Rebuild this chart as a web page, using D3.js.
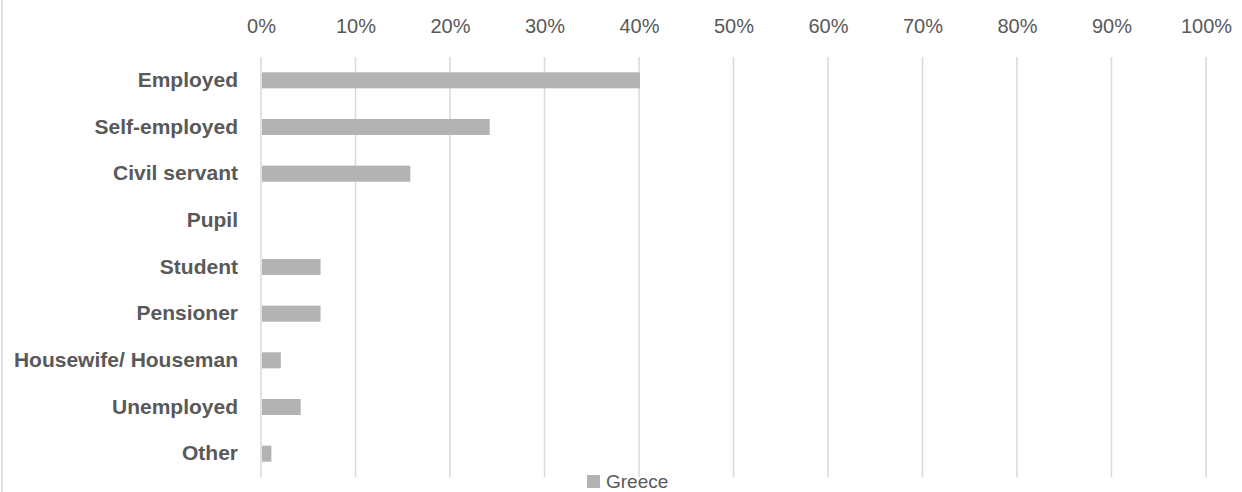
<!DOCTYPE html>
<html><head><meta charset="utf-8">
<script src="https://cdn.jsdelivr.net/npm/d3@7"></script>
<style>html,body{margin:0;padding:0;background:#fff;}svg{display:block;}</style>
</head><body>
<svg id="chart" width="1242" height="492"></svg>
<script>
const categories = ["Employed","Self-employed","Civil servant","Pupil","Student","Pensioner","Housewife/ Houseman","Unemployed","Other"];
const greece = [0.401, 0.242, 0.158, 0, 0.063, 0.063, 0.021, 0.042, 0.011];
const tickValues = [0,0.1,0.2,0.3,0.4,0.5,0.6,0.7,0.8,0.9,1.0];
const seriesName = "Greece";

const svg = d3.select("#chart");
const W = 1242, H = 492;
const font = "'Liberation Sans', Arial, sans-serif";
const textColor = "#595959";

// outer border (left edge visible)
svg.append("line").attr("x1",2).attr("x2",2).attr("y1",0).attr("y2",H)
  .attr("stroke","#d9d9d9").attr("stroke-width",1.5);

const x = d3.scaleLinear().domain([0,1]).range([261,1206]);
const y = d3.scaleBand().domain(categories).range([57,477]).paddingInner(0.657).paddingOuter(0.3285);

// gridlines
svg.append("g").selectAll("line").data(tickValues).join("line")
  .attr("x1",d=>x(d)).attr("x2",d=>x(d)).attr("y1",57).attr("y2",477)
  .attr("stroke","#d9d9d9").attr("stroke-width",1.5);

// top axis labels
const xAxis = d3.axisTop(x).tickValues(tickValues).tickFormat(d3.format(".0%")).tickSize(0).tickPadding(0);
const gx = svg.append("g").attr("transform","translate(0,33)").call(xAxis);
gx.select(".domain").remove();
gx.selectAll("text").attr("font-family",font).attr("font-size",20).attr("fill",textColor).attr("dy","0");

// bars
svg.append("g").selectAll("rect").data(greece).join("rect")
  .attr("x",x(0)+1).attr("y",(d,i)=>y(categories[i]))
  .attr("width",d=>Math.max(0,x(d)-x(0)-1)).attr("height",y.bandwidth())
  .attr("fill","#b3b3b3");

// category labels
const yAxis = d3.axisLeft(y).tickSize(0).tickPadding(23);
const gy = svg.append("g").attr("transform",`translate(${x(0)},0)`).call(yAxis);
gy.select(".domain").remove();
gy.selectAll("text").attr("font-family",font).attr("font-size",21).attr("font-weight","bold").attr("fill",textColor);

// legend
const lg = svg.append("g");
lg.append("rect").attr("x",587).attr("y",475).attr("width",13).attr("height",13).attr("fill","#b3b3b3");
lg.append("text").attr("x",606).attr("y",488).text(seriesName)
  .attr("font-family",font).attr("font-size",19).attr("fill",textColor);
</script>
</body></html>
